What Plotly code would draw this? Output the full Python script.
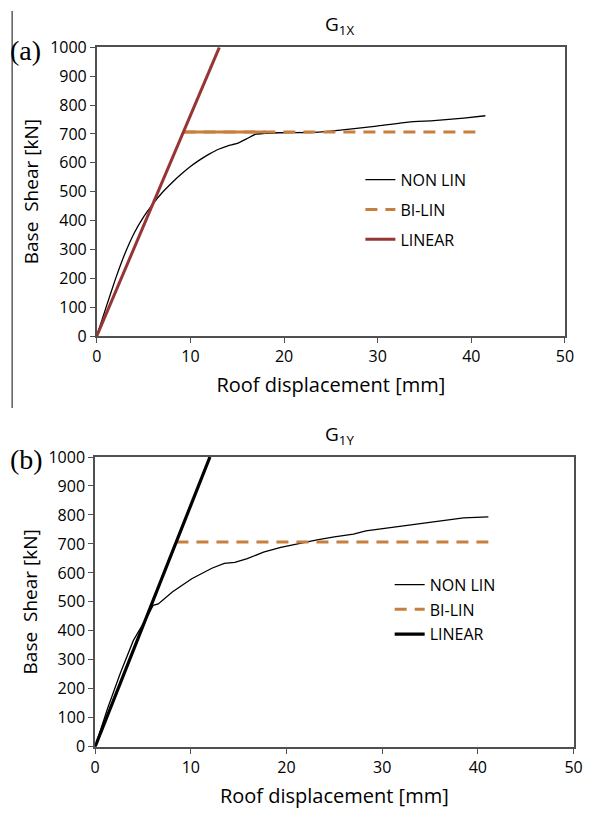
import plotly.graph_objects as go

# ---------------- data ----------------
# Panel (a) G1X
a_nonlin_x = [0, 1.0, 2.0, 3.0, 4.0, 5.0, 6.0, 7.0, 8.0, 9.0, 10.0, 11.0, 12.0, 13.0, 14.0, 15.0, 16.0, 17.0,
              19.4, 22.9, 25.0, 27.5, 29.9, 33.3, 36.0, 39.2, 41.5]
a_nonlin_y = [0, 100, 198, 285, 357, 413, 458, 497, 530, 560, 587, 610, 630, 647, 659, 667, 683, 699,
              704, 705, 710, 718, 727, 741, 746, 755, 763]
a_linear_x = [0, 13.09]
a_linear_y = [0, 1000]
a_bilin_x = [9.25, 40.8]
a_bilin_y = [707, 707]
a_bilin_solid_x = [9.25, 18.0]
a_bilin_solid_y = [707, 707]

# Panel (b) G1Y
b_nonlin_x = [0, 1.3, 2.65, 4.0, 5.4, 6.06, 6.6, 8.1, 10.1, 12.2, 13.5, 14.6, 15.9, 17.6, 19.4, 21.0,
              23.2, 25.0, 27.0, 28.3, 30.5, 32.75, 34.5, 36.8, 38.5, 41.1]
b_nonlin_y = [0, 132, 255, 367, 446, 488, 493, 535, 580, 616, 633, 636, 649, 672, 688, 700,
              714, 724, 734, 745, 755, 765, 772, 784, 790, 793]
b_linear_x = [0, 12.0]
b_linear_y = [0, 1000]
b_bilin_x = [8.5, 41.1]
b_bilin_y = [707, 707]

x_ticks = [0, 10, 20, 30, 40, 50]
y_ticks = [0, 100, 200, 300, 400, 500, 600, 700, 800, 900, 1000]

# ---------------- style ----------------
W, H = 592, 820
RED = "#963634"
ORANGE = "#C67F3E"
AXC = "#505050"
FONT = "Open Sans"
TXT = "#000000"

fig = go.Figure()

# panel a
fig.add_trace(go.Scatter(x=a_nonlin_x, y=a_nonlin_y, mode="lines", name="NON LIN",
                         line=dict(color="black", width=1.3, shape="spline", smoothing=0.4),
                         xaxis="x", yaxis="y", legend="legend", legendgroup="a1"))
fig.add_trace(go.Scatter(x=a_bilin_x, y=a_bilin_y, mode="lines", name="BI-LIN",
                         line=dict(color=ORANGE, width=3, dash="12px,8px"), xaxis="x", yaxis="y",
                         legend="legend", legendgroup="a2"))
fig.add_trace(go.Scatter(x=a_bilin_solid_x, y=a_bilin_solid_y, mode="lines", showlegend=False,
                         line=dict(color=ORANGE, width=3), xaxis="x", yaxis="y"))
fig.add_trace(go.Scatter(x=a_linear_x, y=a_linear_y, mode="lines", name="LINEAR",
                         line=dict(color=RED, width=3), xaxis="x", yaxis="y",
                         legend="legend", legendgroup="a3"))

# panel b
fig.add_trace(go.Scatter(x=b_nonlin_x, y=b_nonlin_y, mode="lines", name="NON LIN",
                         line=dict(color="black", width=1.3), xaxis="x2", yaxis="y2",
                         legend="legend2", legendgroup="b1"))
fig.add_trace(go.Scatter(x=b_bilin_x, y=b_bilin_y, mode="lines", name="BI-LIN",
                         line=dict(color=ORANGE, width=3, dash="12px,8px"), xaxis="x2", yaxis="y2",
                         legend="legend2", legendgroup="b2"))
fig.add_trace(go.Scatter(x=b_linear_x, y=b_linear_y, mode="lines", name="LINEAR",
                         line=dict(color="black", width=3.2), xaxis="x2", yaxis="y2",
                         legend="legend2", legendgroup="b3"))

def xa(domain, anchor):
    return dict(domain=domain, anchor=anchor, range=[0, 50], tickvals=x_ticks,
                showline=True, linecolor=AXC, linewidth=1.7, mirror=True,
                ticks="outside", ticklen=5, tickcolor=AXC, tickwidth=1.3,
                showgrid=False, zeroline=False,
                tickfont=dict(family=FONT, size=16, color=TXT),
                title=dict(text="Roof displacement [mm]", standoff=12,
                           font=dict(family=FONT, size=20, color=TXT)))

def ya(domain, anchor):
    return dict(domain=domain, anchor=anchor, range=[0, 1000], tickvals=y_ticks,
                showline=True, linecolor=AXC, linewidth=1.7, mirror=True,
                ticks="outside", ticklen=5, tickcolor=AXC, tickwidth=1.3,
                showgrid=False, zeroline=False,
                tickfont=dict(family=FONT, size=16, color=TXT),
                title=dict(text="Base  Shear [kN]", standoff=6,
                           font=dict(family=FONT, size=19, color=TXT)))

ax_dom = [94 / W, 573.5 / W]
ay_dom = [1 - 334 / H, 1 - 37.3 / H]
bx_dom = [92.3 / W, 582.3 / W]
by_dom = [1 - 756 / H, 1 - 458.3 / H]

fig.update_layout(
    width=W, height=H, margin=dict(l=0, r=0, t=0, b=0),
    paper_bgcolor="white", plot_bgcolor="white",
    xaxis=xa(ax_dom, "y"), yaxis=ya(ay_dom, "x"),
    xaxis2=xa(bx_dom, "y2"), yaxis2=ya(by_dom, "x2"),
    legend=dict(x=364 / W, y=1 - 156 / H, xanchor="left", yanchor="top",
                bgcolor="rgba(0,0,0,0)", traceorder="grouped", tracegroupgap=6,
                font=dict(family=FONT, size=16, color=TXT)),
    legend2=dict(x=394 / W, y=1 - 572 / H, xanchor="left", yanchor="top",
                 bgcolor="rgba(0,0,0,0)", traceorder="grouped", tracegroupgap=1,
                 font=dict(family=FONT, size=16, color=TXT)),
    showlegend=True,
)

ann = [
    dict(text="G<sub>1X</sub>", x=343 / W, y=1 - 14 / H),
    dict(text="G<sub>1Y</sub>", x=343 / W, y=1 - 436 / H),
]
for a in ann:
    fig.add_annotation(text=a["text"], x=a["x"], y=a["y"], xref="paper", yref="paper",
                       showarrow=False, xanchor="center", yanchor="middle",
                       font=dict(family=FONT, size=19, color=TXT))

fig.add_annotation(text="(a)", x=3 / W, y=1 - 41 / H, xref="paper", yref="paper",
                   showarrow=False, xanchor="left", yanchor="middle",
                   font=dict(family="Liberation Serif", size=28, color=TXT))
fig.add_annotation(text="(b)", x=3 / W, y=1 - 461 / H, xref="paper", yref="paper",
                   showarrow=False, xanchor="left", yanchor="middle",
                   font=dict(family="Liberation Serif", size=28, color=TXT))

fig.add_shape(type="line", xref="paper", yref="paper",
              x0=7.3 / W, x1=7.3 / W, y0=1, y1=1 - 408 / H,
              line=dict(color="#333333", width=1.2))

fig.write_html("out.html")
